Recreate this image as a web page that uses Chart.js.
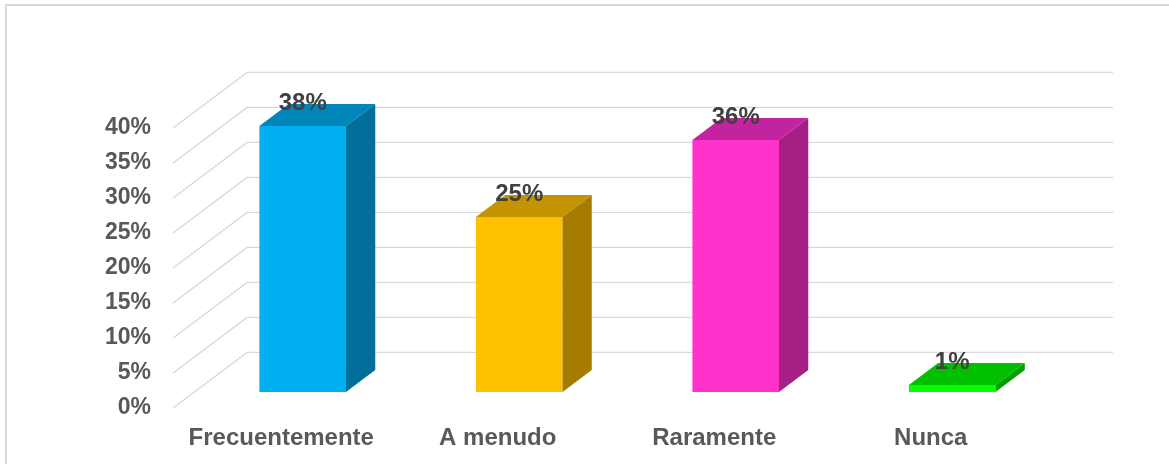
<!DOCTYPE html>
<html>
<head>
<meta charset="utf-8">
<script src="https://cdn.jsdelivr.net/npm/chart.js@4"></script>
<style>
  html, body { margin: 0; padding: 0; background: #fff; overflow: hidden; }
  #wrap { position: relative; width: 1169px; height: 464px; }
  #frame { position: absolute; left: 5px; top: 4px; width: 1200px; height: 500px;
           border-left: 2px solid #d9d9d9; border-top: 2px solid #d9d9d9; }
  canvas { position: absolute; left: 0; top: 0; }
</style>
</head>
<body>
<div id="wrap">
  <div id="frame"></div>
  <canvas id="chart" width="1169" height="464"></canvas>
</div>
<script>
// --- data ---
const categories = ['Frecuentemente', 'A menudo', 'Raramente', 'Nunca'];
const percents = [38, 25, 36, 1];
const yTicks = [0, 5, 10, 15, 20, 25, 30, 35, 40];

// --- 3d look ---
const faceFront = ['#00b0f0', '#ffc000', '#ff33cc', '#00ff00'];
const faceTop   = ['#0086b8', '#c49400', '#c423a0', '#00c000'];
const faceSide  = ['#006f9a', '#a67c00', '#a61f84', '#00a000'];
const WALL_DX = 74, WALL_DY = 55.6;     // depth of the floor/side wall
const BAR_FRONT = 0.29, BAR_BACK = 0.685; // where the boxes sit in that depth
const GRID = '#d9d9d9';

const box3d = {
  id: 'box3d',
  beforeDatasetsDraw(chart) {
    const { ctx, chartArea: a, scales: { y } } = chart;
    ctx.save();
    ctx.strokeStyle = GRID;
    ctx.lineWidth = 1.4;
    yTicks.forEach(v => {
      const py = y.getPixelForValue(v);
      ctx.beginPath();
      ctx.moveTo(a.left, py);
      ctx.lineTo(a.left + WALL_DX, py - WALL_DY);
      ctx.lineTo(a.right + WALL_DX, py - WALL_DY);
      ctx.stroke();
    });
    ctx.restore();
  },
  afterDatasetsDraw(chart) {
    const { ctx } = chart;
    const fx = WALL_DX * BAR_FRONT, fy = WALL_DY * BAR_FRONT;
    const dx = WALL_DX * (BAR_BACK - BAR_FRONT), dy = WALL_DY * (BAR_BACK - BAR_FRONT);
    const poly = (pts, color) => {
      ctx.beginPath();
      pts.forEach((p, k) => k ? ctx.lineTo(p[0], p[1]) : ctx.moveTo(p[0], p[1]));
      ctx.closePath();
      ctx.fillStyle = color;
      ctx.fill();
    };
    ctx.save();
    chart.getDatasetMeta(0).data.forEach((bar, i) => {
      const { x, y, base, width } = bar.getProps(['x', 'y', 'base', 'width'], true);
      const l = x - width / 2 + fx, r = x + width / 2 + fx;
      const t = y - fy, b = base - fy;
      poly([[l, t], [r, t], [r, b], [l, b]], faceFront[i]);
      poly([[l, t], [r, t], [r + dx, t - dy], [l + dx, t - dy]], faceTop[i]);
      poly([[r, t], [r + dx, t - dy], [r + dx, b - dy], [r, b]], faceSide[i]);
    });
    ctx.fillStyle = '#404040';
    ctx.font = 'bold 24px "Liberation Sans", Arial, sans-serif';
    ctx.textAlign = 'center';
    ctx.textBaseline = 'middle';
    chart.getDatasetMeta(0).data.forEach((bar, i) => {
      const { x, y } = bar.getProps(['x', 'y'], true);
      ctx.fillText(percents[i] + '%', x + fx, y - fy - 23);
    });
    ctx.restore();
  }
};

Chart.defaults.font.family = '"Liberation Sans", Arial, sans-serif';
Chart.defaults.font.size = 23;
Chart.defaults.font.weight = 'bold';
Chart.defaults.color = '#595959';

new Chart(document.getElementById('chart'), {
  type: 'bar',
  data: {
    labels: categories,
    datasets: [{
      data: percents,
      backgroundColor: 'rgba(0,0,0,0)',
      barPercentage: 0.4,
      categoryPercentage: 1
    }]
  },
  options: {
    responsive: false,
    animation: false,
    devicePixelRatio: 1,
    layout: { padding: { top: 128, right: 130, left: 0, bottom: 0 } },
    plugins: { legend: { display: false }, tooltip: { enabled: false } },
    scales: {
      x: {
        grid: { display: false, drawTicks: false },
        border: { display: false },
        ticks: { padding: 16, maxRotation: 0, font: { size: 24 } },
        afterFit: s => { s.height = 56; }
      },
      y: {
        min: 0, max: 40,
        afterBuildTicks: s => { s.ticks = yTicks.map(v => ({ value: v })); },
        grid: { display: false, drawTicks: false },
        border: { display: false },
        ticks: { padding: 22, callback: v => v + '%' },
        afterFit: s => { s.width = 173; }
      }
    }
  },
  plugins: [box3d]
});
</script>
</body>
</html>
